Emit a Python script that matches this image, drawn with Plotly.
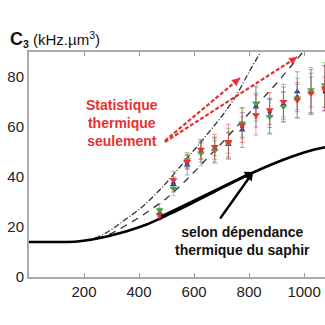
import plotly.graph_objects as go

# ---- data ----
T_solid = [0, 100, 175, 225, 275, 325, 375, 425, 475, 525, 575, 625, 675, 725, 775, 825, 875, 925, 975, 1025, 1076]
C_solid = [14, 14, 14.2, 14.9, 16.0, 17.4, 19.0, 20.9, 23.3, 25.9, 28.6, 31.4, 34.2, 37.0, 39.7, 42.3, 44.7, 46.9, 48.9, 50.6, 51.9]

T_dashdot = [200, 250, 300, 350, 400, 450, 500, 550, 600, 650, 700, 750, 800, 845]
C_dashdot = [14.6, 16.0, 19.0, 23.0, 27.0, 32.0, 37.8, 44.2, 50.8, 57.4, 64.2, 72.0, 82.0, 90.5]

T_dash = [200, 250, 300, 350, 400, 450, 500, 550, 600, 650, 700, 750, 800, 850, 900, 950, 1000]
C_dash = [14.6, 15.5, 17.5, 20.5, 23.8, 27.5, 31.5, 36.5, 42.0, 47.8, 53.5, 59.5, 65.5, 71.5, 77.5, 84.0, 90.5]

T_pts = [475, 525, 575, 625, 675, 725, 775, 825, 875, 925, 975, 1025, 1075]
C_black = [25.5, 37.5, 45.5, 50.5, 51.5, 53.5, 60.0, 68.5, 66.0, 69.0, 72.0, 74.0, 74.0]
C_blue = [25.5, 37.0, 44.8, 50.0, 51.0, 53.0, 58.8, 68.0, 64.5, 69.0, 74.1, 74.0, 75.5]
C_green = [26.8, 35.5, 46.8, 49.5, 50.5, 53.5, 61.5, 69.5, 64.1, 68.1, 71.5, 74.8, 76.8]
C_red = [24.8, 38.8, 46.1, 51.0, 52.1, 54.1, 60.8, 64.8, 66.8, 70.1, 70.8, 73.5, 75.5]
E_black = [1.5, 2, 2, 3, 3, 4, 4, 5, 5, 5, 5, 6, 6]
E_blue = [2, 3, 4, 4, 5, 5, 7, 8, 7, 7, 8, 9, 9]
E_green = [2.5, 3, 3, 5, 5, 6, 6, 7, 7, 6, 8, 9, 9]
E_red = [2, 3.5, 3, 4, 5, 7, 7, 8, 7, 7, 7, 8, 9]

red_arrow_tail = [(494, 54.5), (494, 54.0)]
red_arrow_head = [(767, 79.6), (975, 88.0)]
black_arrow_tail = [(476, 24.0), (691, 22.8)]
black_arrow_head = [(815, 42.0), (815, 42.0)]

xticks = [200, 400, 600, 800, 1000]
yticks = [0, 20, 40, 60, 80]

RED = "#e8312f"
GREEN = "#4aae3c"
BLUE = "#2f3aa8"

fig = go.Figure()

fig.add_trace(go.Scatter(x=T_dashdot, y=C_dashdot, mode="lines", line=dict(color="#333", width=1.3, dash="6px,2px,1px,2px", shape="spline"), showlegend=False))
fig.add_trace(go.Scatter(x=T_dash, y=C_dash, mode="lines", line=dict(color="#333", width=1.3, dash="7px,6px", shape="spline"), showlegend=False))
fig.add_trace(go.Scatter(x=T_solid, y=C_solid, mode="lines", line=dict(color="black", width=2.6, shape="spline"), showlegend=False))

series = [
    (C_black, E_black, "#222", "rgba(60,60,60,0.35)", "circle", 4),
    (C_blue, E_blue, BLUE, "rgba(47,58,168,0.45)", "triangle-up", 6),
    (C_green, E_green, GREEN, "rgba(74,174,60,0.5)", "triangle-down", 7),
    (C_red, E_red, RED, "rgba(232,49,47,0.5)", "triangle-down", 7),
]
for c, e, col, ecol, sym, sz in series:
    fig.add_trace(go.Scatter(
        x=T_pts, y=c, mode="markers",
        marker=dict(color=col, symbol=sym, size=sz),
        error_y=dict(type="data", array=e, color=ecol, thickness=1, width=2.5),
        showlegend=False))

for (tx, ty), (hx, hy) in zip(red_arrow_tail, red_arrow_head):
    fig.add_trace(go.Scatter(
        x=[tx, hx], y=[ty, hy], mode="lines",
        line=dict(color=RED, width=2.2, dash="4px,2px"),
        showlegend=False))
    fig.add_annotation(x=hx, y=hy, ax=hx - (hx - tx) * 0.06, ay=hy - (hy - ty) * 0.06,
                       xref="x", yref="y", axref="x", ayref="y",
                       showarrow=True, arrowhead=2, arrowsize=0.8, arrowwidth=2, arrowcolor=RED, text="")

for (tx, ty), (hx, hy) in zip(black_arrow_tail, black_arrow_head):
    fig.add_annotation(x=hx, y=hy, ax=tx, ay=ty, xref="x", yref="y", axref="x", ayref="y",
                       showarrow=True, arrowhead=2, arrowsize=0.7, arrowwidth=2.4, arrowcolor="black", text="")

fig.add_annotation(xref="x", yref="y", x=(122 - 29) / 0.275, y=(277 - 123) / 2.5,
                   text="<b>Statistique<br>thermique<br>seulement</b>", showarrow=False,
                   font=dict(color=RED, size=14, family="Liberation Sans, Arial"), align="center")
fig.add_annotation(xref="x", yref="y", x=(242 - 29) / 0.275, y=(277 - 241) / 2.5,
                   text="<b>selon dépendance<br>thermique du saphir</b>", showarrow=False,
                   font=dict(color="#111", size=14, family="Liberation Sans, Arial"), align="center")
fig.add_annotation(xref="paper", yref="paper", x=-21 / 296, y=1 + 13 / 225, xanchor="left", yanchor="middle",
                   text="<b><span style='font-size:18px'>C</span><sub>3</sub></b> (kHz.µm<sup>3</sup>)", showarrow=False,
                   font=dict(color="#111", size=15, family="Liberation Sans, Arial"))

fig.update_layout(
    width=325, height=325, margin=dict(l=29, r=0, t=52, b=48),
    paper_bgcolor="white", plot_bgcolor="white",
    font=dict(family="Liberation Sans, Arial", size=15, color="#222"),
    xaxis=dict(range=[0, 1076], tickvals=xticks, ticks="inside", ticklen=4, tickcolor="#999",
               showline=True, linecolor="#aaa", linewidth=2, mirror="ticks", showgrid=False, zeroline=False,
               tickfont=dict(size=15, color="#222")),
    yaxis=dict(range=[0, 90], tickvals=yticks, ticks="", showline=True, linecolor="#aaa", linewidth=2,
               showgrid=False, zeroline=False, tickfont=dict(size=15, color="#222")),
)

fig.write_html("out.html")
